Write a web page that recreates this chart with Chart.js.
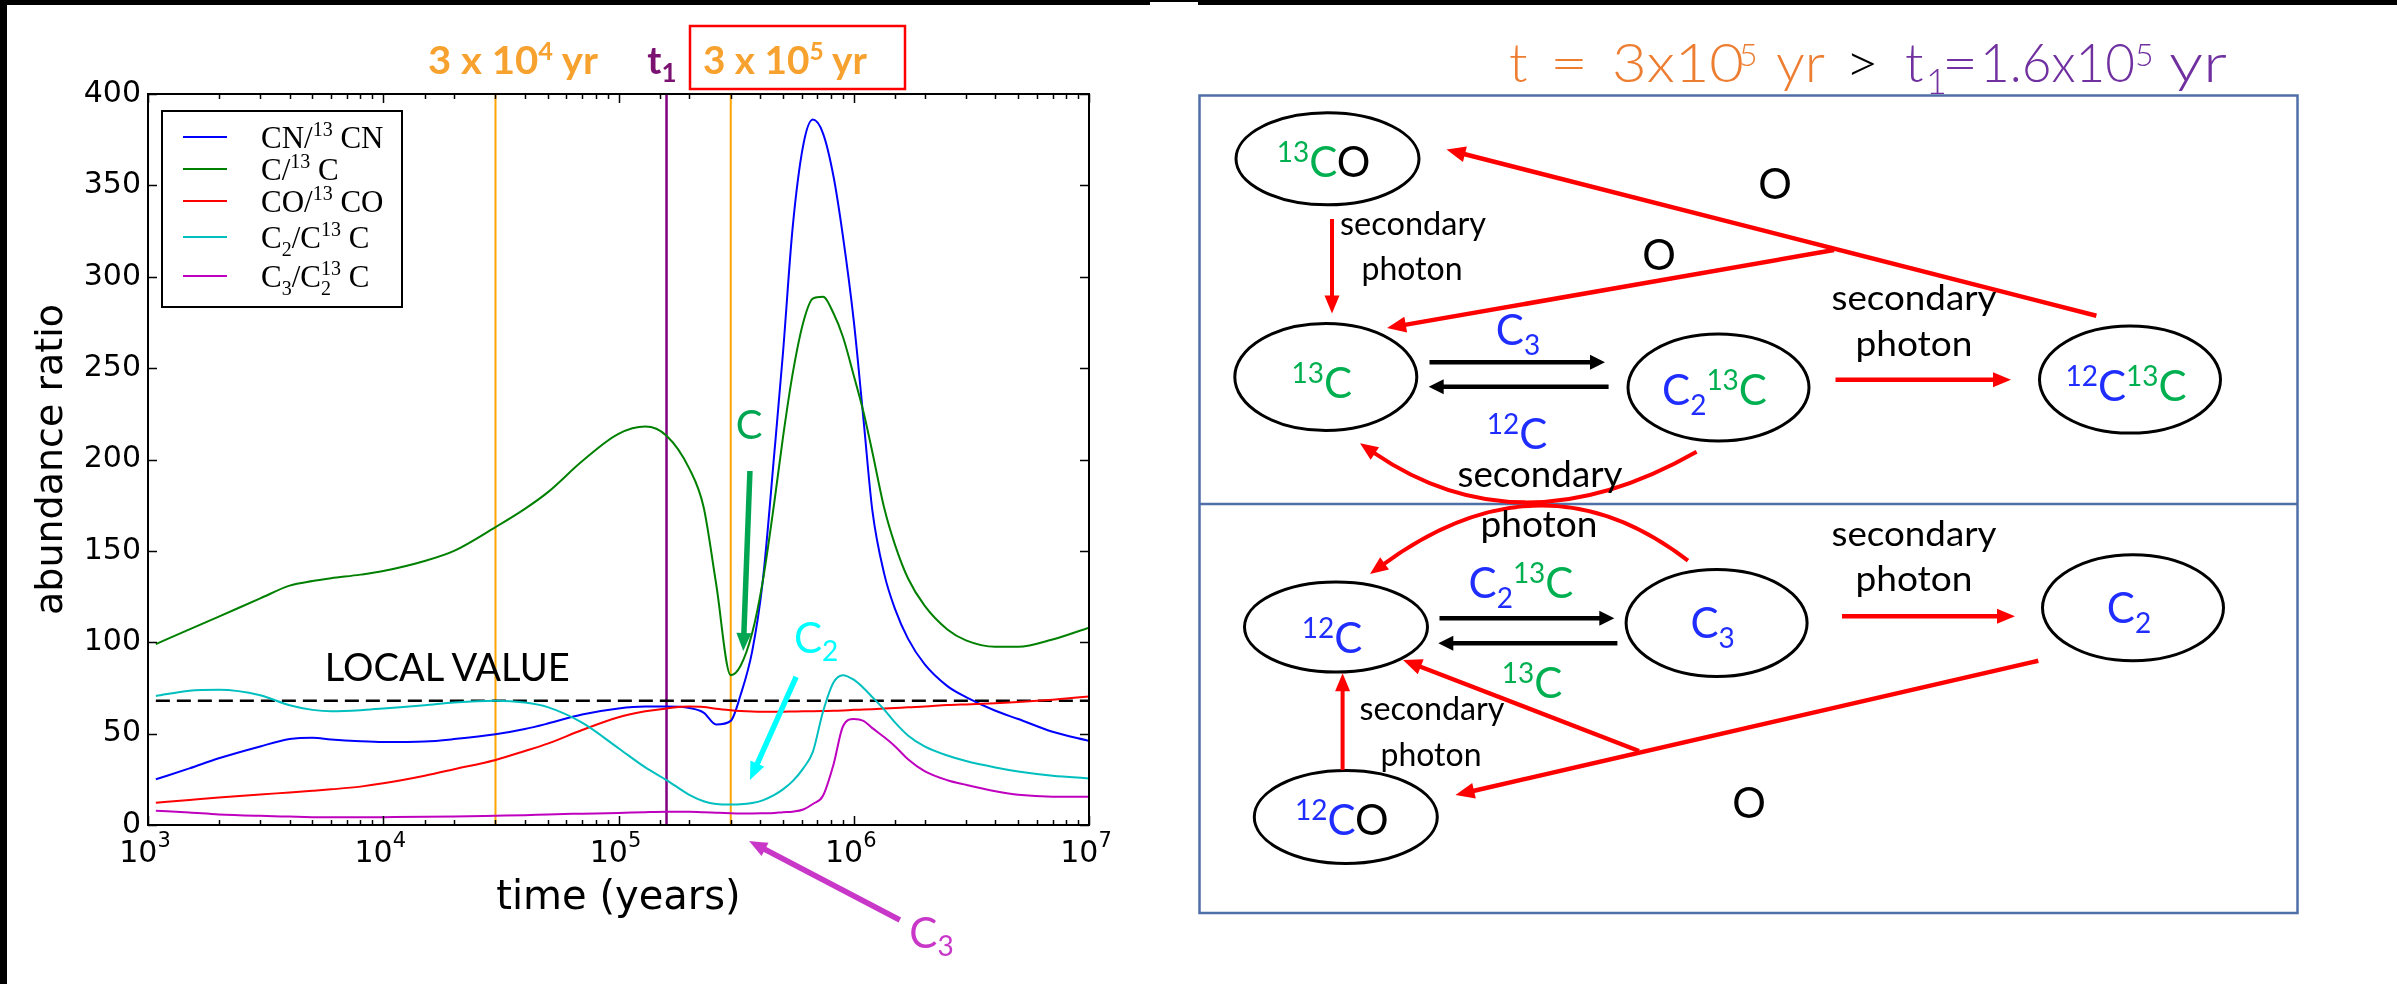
<!DOCTYPE html>
<html>
<head>
<meta charset="utf-8">
<title>Carbon isotopic ratios</title>
<script src="https://cdn.jsdelivr.net/npm/chart.js@4.4.1/dist/chart.umd.min.js"></script>
<style>
  html, body { margin: 0; padding: 0; background: #fff; }
  #page { position: relative; width: 2397px; height: 984px; overflow: hidden; background: #fff; }
  #plot { position: absolute; left: 0; top: 0; }
  #overlay { position: absolute; left: 0; top: 0; pointer-events: none; }
  .edge { position: absolute; background: #000; }
</style>
</head>
<body>
<div id="page">
  <canvas id="plot" width="1150" height="984"></canvas>
  <svg id="overlay" xmlns="http://www.w3.org/2000/svg" width="2397" height="984"></svg>
  <div class="edge" style="left:0;top:0;width:1150px;height:5px"></div>
  <div class="edge" style="left:1150px;top:0;width:48px;height:2px"></div>
  <div class="edge" style="left:1198px;top:0;width:1199px;height:5px"></div>
  <div class="edge" style="left:0;top:0;width:7px;height:984px"></div>
</div>
<script>
// ---- model time grid (years) and abundance ratios ----
const years = [1080, 1500, 2000, 3000, 4000, 5000, 6000, 8000,
  1e4, 1.5e4, 2e4, 3e4, 4e4, 5e4, 7e4,
  1e5, 1.3e5, 1.6e5, 2e5, 2.3e5, 2.6e5,
  3e5, 3.3e5, 3.7e5, 4.1e5, 4.6e5, 5e5, 5.5e5, 6.1e5, 6.7e5, 7.4e5, 8.2e5, 9e5,
  1e6, 1.1e6, 1.2e6, 1.35e6, 1.5e6, 1.7e6, 2e6, 2.5e6, 3e6, 4e6, 5e6, 7e6, 1e7];

const cnRatio = [25, 31, 36.5, 43, 47, 47.8, 46.8, 45.8,
  45.4, 45.7, 47, 49.6, 52.5, 55.5, 60.5,
  63.8, 64.8, 64.8, 64, 61.5, 55,
  57, 71, 95, 133, 204, 258, 327, 372, 386, 378.5, 355, 322,
  276, 222, 172, 137, 118, 102, 88, 76, 70, 62.5, 58, 51, 46];

const cRatio = [99, 107, 114, 124, 131, 133.5, 135, 137,
  139, 144.5, 150, 163, 173, 182, 199,
  214, 218, 213, 195, 174, 132,
  82, 87, 105, 133, 177, 212, 247, 275, 288, 289, 280, 267,
  246, 226, 204, 173, 153, 135, 120, 107, 101, 97.5, 97.5, 101.5, 108];

const coRatio = [12.2, 13.7, 15, 16.7, 17.8, 18.7, 19.5, 21,
  22.8, 27, 30.5, 35.6, 40.5, 44.5, 52,
  59, 62.2, 63.8, 64.8, 64.6, 63.6,
  62.8, 62.4, 62.1, 62, 62, 62, 62.1, 62.2, 62.3, 62.4, 62.5, 62.7,
  63, 63.2, 63.4, 63.7, 64, 64.4, 64.8, 65.6, 66, 66.6, 67.3, 68.6, 70.3];

const c2Ratio = [70.6, 73.5, 74, 71, 65.5, 63, 62.2, 62.8,
  63.8, 65.5, 67, 68, 67, 64.5, 56,
  42, 31.5, 24.6, 16.5, 13, 11.5,
  11.2, 11.3, 12, 13.5, 16.5, 19.5, 24, 31, 40, 62, 78, 82,
  79.5, 75, 70, 63, 56, 49, 43, 38, 35, 31.5, 29.3, 27, 25.5];

const c3Ratio = [7.8, 6.8, 5.8, 5, 4.6, 4.3, 4.2, 4.2,
  4.3, 4.5, 4.7, 5.1, 5.4, 5.8, 6.2,
  6.6, 7, 7.2, 7.2, 7, 6.7,
  6.4, 6.3, 6.3, 6.4, 6.6, 7, 7.3, 8.5, 11.5, 16, 33, 54,
  58, 57, 53, 48, 43, 36, 29.5, 24.5, 22, 18.5, 16.5, 15.5, 15.5];

// reference epochs (years) and the local interstellar 12C/13C value
const markerYears = [3e4, 1.6e5, 3e5];
const markerColors = ['#ffa500', '#800080', '#ffa500'];
const localValue = 68;

// axis ranges and ticks
const timeRange = [1e3, 1e7];
const ratioRange = [0, 400];
const ratioStep = 50;

const seriesDefs = [
  { values: cnRatio, color: '#0000ff', order: 5,
    label: [['CN/', ''], ['13', 'sup'], [' CN', '']] },
  { values: cRatio,  color: '#008000', order: 4,
    label: [['C/', ''], ['13', 'sup'], [' C', '']] },
  { values: coRatio, color: '#ff0000', order: 3,
    label: [['CO/', ''], ['13', 'sup'], [' CO', '']] },
  { values: c2Ratio, color: '#00bfbf', order: 2,
    label: [['C', ''], ['2', 'sub'], ['/C', ''], ['13', 'sup'], [' C', '']] },
  { values: c3Ratio, color: '#bf00bf', order: 1,
    label: [['C', ''], ['3', 'sub'], ['/C', ''], ['2', 'sub'], ['13', 'sup', -10], [' C', '']] }
];

const datasets = seriesDefs.map(s => ({
  data: years.map((t, i) => ({ x: t, y: s.values[i] })),
  borderColor: s.color,
  borderWidth: 2,
  pointRadius: 0,
  fill: false,
  cubicInterpolationMode: 'monotone',
  order: s.order
}));

markerYears.forEach((t, i) => datasets.push({
  data: [{ x: t, y: ratioRange[0] }, { x: t, y: ratioRange[1] }],
  borderColor: markerColors[i],
  borderWidth: i === 1 ? 2.5 : 2,
  pointRadius: 0,
  fill: false,
  order: 10
}));

datasets.push({
  data: [{ x: years[0], y: localValue }, { x: years[years.length - 1], y: localValue }],
  borderColor: '#000',
  borderWidth: 2.5,
  borderDash: [14, 7],
  pointRadius: 0,
  fill: false,
  order: 9
});

// frame, inward ticks on all four sides, and 10^n labels under the time axis
const frameAndTicks = {
  id: 'frameAndTicks',
  afterDraw(chart) {
    const { ctx, chartArea: a, scales: { x, y } } = chart;
    ctx.save();
    ctx.strokeStyle = '#000';
    ctx.lineWidth = 1.5;
    ctx.beginPath();
    x.ticks.forEach(tk => {
      const exp = Math.log10(tk.value);
      const major = Math.abs(exp - Math.round(exp)) < 1e-9;
      const len = major ? 9 : 5;
      const px = Math.round(x.getPixelForValue(tk.value)) + 0.5;
      ctx.moveTo(px, a.bottom); ctx.lineTo(px, a.bottom - len);
      ctx.moveTo(px, a.top); ctx.lineTo(px, a.top + len);
    });
    y.ticks.forEach(tk => {
      const py = Math.round(y.getPixelForValue(tk.value)) + 0.5;
      ctx.moveTo(a.left, py); ctx.lineTo(a.left + 9, py);
      ctx.moveTo(a.right, py); ctx.lineTo(a.right - 9, py);
    });
    ctx.stroke();
    ctx.lineWidth = 2;
    ctx.strokeRect(a.left, a.top, a.right - a.left, a.bottom - a.top);

    ctx.fillStyle = '#000';
    ctx.textBaseline = 'alphabetic';
    ctx.textAlign = 'left';
    x.ticks.forEach(tk => {
      const exp = Math.log10(tk.value);
      if (Math.abs(exp - Math.round(exp)) > 1e-9) return;
      const base = '10', sup = String(Math.round(exp));
      ctx.font = '30px "DejaVu Sans"';
      const wb = ctx.measureText(base).width;
      ctx.font = '21px "DejaVu Sans"';
      const ws = ctx.measureText(sup).width;
      const px = x.getPixelForValue(tk.value);
      const left = px - (wb + ws) / 2 - 3;
      ctx.font = '30px "DejaVu Sans"';
      ctx.fillText(base, left, a.bottom + 37);
      ctx.font = '21px "DejaVu Sans"';
      ctx.fillText(sup, left + wb, a.bottom + 22);
    });
    ctx.restore();
  }
};

Chart.defaults.font.family = '"DejaVu Sans"';
Chart.defaults.color = '#000';

const chart = new Chart(document.getElementById('plot'), {
  type: 'line',
  data: { datasets },
  options: {
    responsive: false,
    animation: false,
    events: [],
    layout: { padding: { top: 94, right: 61, bottom: 0, left: 0 } },
    plugins: { legend: { display: false }, tooltip: { enabled: false } },
    scales: {
      x: {
        type: 'logarithmic',
        min: timeRange[0], max: timeRange[1],
        grid: { display: false, drawTicks: false },
        border: { display: false },
        ticks: { display: false, autoSkip: false },
        title: { display: true, text: 'time (years)', font: { size: 40 }, padding: { top: 0, bottom: 61 } },
        afterFit(s) { s.height = 159; }
      },
      y: {
        min: ratioRange[0], max: ratioRange[1],
        grid: { display: false, drawTicks: false },
        border: { display: false },
        ticks: { stepSize: ratioStep, padding: 7, font: { size: 30 } },
        title: { display: true, text: 'abundance ratio', font: { size: 38 }, padding: { top: 29, bottom: 0 } },
        afterFit(s) { s.width = 148; }
      }
    }
  },
  plugins: [frameAndTicks]
});

// ---- SVG overlay helpers ----
const NS = 'http://www.w3.org/2000/svg';
const svg = document.getElementById('overlay');
function el(tag, attrs, parent = svg) {
  const e = document.createElementNS(NS, tag);
  for (const k in attrs) e.setAttribute(k, attrs[k]);
  parent.appendChild(e);
  return e;
}
function richText(x, y, parts, o) {
  const size = o.size;
  const small = o.small || Math.round(size * 0.68);
  const supShift = o.supShift != null ? o.supShift : size * 0.38;
  const subShift = o.subShift != null ? o.subShift : size * 0.25;
  const t = el('text', {
    x, y,
    'text-anchor': o.anchor || 'middle',
    'font-family': o.font || 'Lato',
    'font-size': size,
    'font-weight': o.weight || 400
  });
  if (o.length) { t.setAttribute('textLength', o.length); t.setAttribute('lengthAdjust', 'spacingAndGlyphs'); }
  let shift = 0;
  for (const p of parts) {
    const [str, kind, dx, color] = p;
    const target = kind === 'sup' ? -supShift : kind === 'sub' ? subShift : 0;
    const span = el('tspan', { fill: color || o.color || '#000', dy: target - shift }, t);
    if (kind) span.setAttribute('font-size', small);
    if (dx) span.setAttribute('dx', dx);
    span.textContent = str;
    shift = target;
  }
  return t;
}
function arrow(x1, y1, x2, y2, color, w, hl, hw) {
  const dx = x2 - x1, dy = y2 - y1, L = Math.hypot(dx, dy), ux = dx / L, uy = dy / L;
  const bx = x2 - ux * hl, by = y2 - uy * hl;
  el('line', { x1, y1, x2: bx + ux, y2: by + uy, stroke: color, 'stroke-width': w });
  el('polygon', { fill: color,
    points: `${x2},${y2} ${bx - uy * hw / 2},${by + ux * hw / 2} ${bx + uy * hw / 2},${by - ux * hw / 2}` });
}
function curvedArrow(x0, y0, cx, cy, x2, y2, color, w, hl, hw) {
  const dx = x2 - cx, dy = y2 - cy, L = Math.hypot(dx, dy), ux = dx / L, uy = dy / L;
  const bx = x2 - ux * hl, by = y2 - uy * hl;
  el('path', { d: `M${x0},${y0} Q${cx},${cy} ${bx + ux},${by + uy}`, fill: 'none', stroke: color, 'stroke-width': w });
  el('polygon', { fill: color,
    points: `${x2},${y2} ${bx - uy * hw / 2},${by + ux * hw / 2} ${bx + uy * hw / 2},${by - ux * hw / 2}` });
}

// ---- notes on the plot, placed in (time, ratio) coordinates ----
const X = v => chart.scales.x.getPixelForValue(v);
const Y = v => chart.scales.y.getPixelForValue(v);

const ORANGE = '#f7a12e';
richText(X(3.56e4), Y(411), [['3 x 10'], ['4', 'sup'], [' yr']],
  { size: 38, weight: 700, color: ORANGE, length: 170, supShift: 14, small: 24 });
richText(X(1.53e5), Y(411), [['t'], ['1', 'sub']],
  { size: 38, weight: 700, color: '#7b1272', subShift: 8, small: 26 });
richText(X(5.1e5), Y(411), [['3 x 10'], ['5', 'sup'], [' yr']],
  { size: 38, weight: 700, color: ORANGE, length: 164, supShift: 14, small: 24 });
el('rect', { x: 690, y: 26, width: 215, height: 63, fill: 'none', stroke: '#ff0000', 'stroke-width': 2.5 });

richText(X(1.87e4), Y(78.8), [['LOCAL VALUE']], { size: 39, color: '#000', length: 245 });

arrow(X(3.62e5), Y(193.7), X(3.39e5), Y(95.2), '#00a651', 5.5, 18, 15);
richText(X(3.59e5), Y(211.2), [['C']], { size: 40, color: '#00a651' });

arrow(X(5.69e5), Y(81), X(3.62e5), Y(24.6), '#00ffff', 5.5, 18, 15);
richText(X(6.92e5), Y(94.1), [['C'], ['2', 'sub']], { size: 42, color: '#00ffff', subShift: 8, small: 28 });

arrow(X(1.57e6), Y(-52), X(3.59e5), Y(-8.8), '#c837c8', 5.5, 18, 15);
richText(X(2.14e6), Y(-67.5), [['C'], ['3', 'sub']], { size: 42, color: '#c837c8', subShift: 8, small: 28 });

// legend
el('rect', { x: 162, y: 111, width: 240, height: 196, fill: '#fff', stroke: '#000', 'stroke-width': 2 });
const legendRows = [137, 169, 201, 237, 276];
seriesDefs.forEach((s, i) => {
  const ly = legendRows[i];
  el('line', { x1: 183, y1: ly, x2: 227, y2: ly, stroke: s.color, 'stroke-width': 2 });
  richText(261, ly + 11, s.label.map(p => [p[0], p[1], p[2]]),
    { size: 31, font: '"Liberation Serif", "DejaVu Serif", serif', anchor: 'start', color: '#000', small: 20, supShift: 12, subShift: 8 });
});

// ---- reaction network diagram ----
const GREEN = '#00b050', BLUE = '#1f2dff', RED = '#ff0000';
el('rect', { x: 1199.5, y: 95.5, width: 1098, height: 817.5, fill: 'none', stroke: '#4f6fa8', 'stroke-width': 2.5 });
el('line', { x1: 1199.5, y1: 504, x2: 2297.5, y2: 504, stroke: '#4f6fa8', 'stroke-width': 2.5 });

// title, one text element per piece so each sits at its own position
[
  ['t', 1509, 0, '#ed7d31', 54],
  ['=', 1550, 0, '#ed7d31', 54, 38],
  ['3x10', 1612, 0, '#ed7d31', 54, 132],
  ['5', 1739, -16, '#ed7d31', 32],
  ['yr', 1776, 0, '#ed7d31', 54, 49],
  ['>', 1845, 0, '#000', 54, 34],
  ['t', 1905, 0, '#7030a0', 54],
  ['1', 1926, 12, '#7030a0', 36],
  ['=', 1942, 0, '#7030a0', 54, 36],
  ['1.6x10', 1980, 0, '#7030a0', 54, 155],
  ['5', 2135, -16, '#7030a0', 32],
  ['yr', 2169, 0, '#7030a0', 54, 58]
].forEach(([s, x, dy, c, fs, len]) => {
  const t = el('text', { x, y: 81.7 + dy, fill: c, 'font-family': 'Lato', 'font-size': fs, 'font-weight': 300 });
  if (len) { t.setAttribute('textLength', len); t.setAttribute('lengthAdjust', 'spacingAndGlyphs'); }
  t.textContent = s;
});

// species
const species = [
  { cx: 1327.5, cy: 158.8, rx: 91.5, ry: 46, ty: 177, parts: [['13', 'sup', 0, GREEN], ['C', '', 0, GREEN], ['O', '', 0, '#000']] },
  { cx: 1325.8, cy: 377, rx: 91, ry: 53.5, ty: 398, parts: [['13', 'sup', 0, GREEN], ['C', '', 0, GREEN]] },
  { cx: 1718.5, cy: 387.5, rx: 90.5, ry: 53.5, ty: 405, parts: [['C', '', 0, BLUE], ['2', 'sub', 0, BLUE], ['13', 'sup', 0, GREEN], ['C', '', 0, GREEN]] },
  { cx: 2130, cy: 379.6, rx: 90.5, ry: 53.5, ty: 401, parts: [['12', 'sup', 0, BLUE], ['C', '', 0, BLUE], ['13', 'sup', 0, GREEN], ['C', '', 0, GREEN]] },
  { cx: 1336, cy: 627, rx: 91.5, ry: 45, ty: 653, parts: [['12', 'sup', 0, BLUE], ['C', '', 0, BLUE]] },
  { cx: 1716.6, cy: 623, rx: 90.5, ry: 53.5, ty: 638, parts: [['C', '', 0, BLUE], ['3', 'sub', 0, BLUE]] },
  { cx: 2133, cy: 607.8, rx: 90.5, ry: 53, ty: 623, parts: [['C', '', 0, BLUE], ['2', 'sub', 0, BLUE]] },
  { cx: 1345.8, cy: 817, rx: 91.5, ry: 46.5, ty: 835, parts: [['12', 'sup', 0, BLUE], ['C', '', 0, BLUE], ['O', '', 0, '#000']] }
];
species.forEach(s => {
  el('ellipse', { cx: s.cx, cy: s.cy, rx: s.rx, ry: s.ry, fill: 'none', stroke: '#000', 'stroke-width': 3 });
  richText(s.cx - 4, s.ty, s.parts, { size: 42, small: 28, supShift: 15, subShift: 10 });
});

// reactions: upper panel (13C chemistry)
arrow(2096.4, 315.7, 1446.5, 149.5, RED, 4.5, 19, 16);
arrow(1834, 250, 1387, 328, RED, 4.5, 19, 16);
arrow(1332, 219, 1332, 313.5, RED, 4, 18, 15);
arrow(1429.5, 362.3, 1605, 362.3, '#000', 4.5, 15, 15);
arrow(1608.6, 386.7, 1428.7, 386.7, '#000', 4.5, 15, 15);
curvedArrow(1696.6, 451.7, 1519.7, 552.5, 1360, 443.3, RED, 4, 18, 15);
arrow(1835.5, 379.7, 2011, 379.7, RED, 4.5, 18, 15);

// reactions: lower panel (12C chemistry)
curvedArrow(1688, 560.7, 1543, 448.6, 1370, 574, RED, 4, 18, 15);
arrow(1439.5, 618.3, 1614.3, 618.3, '#000', 4.5, 15, 15);
arrow(1617.4, 643.3, 1438.3, 643.3, '#000', 4.5, 15, 15);
arrow(1842, 616.3, 2015, 616.3, RED, 4.5, 18, 15);
arrow(1342.6, 770, 1342.6, 673.3, RED, 4, 18, 15);
arrow(2038.3, 660.8, 1455.5, 795, RED, 4.5, 19, 16);
arrow(1639, 751, 1403, 660, RED, 4.5, 19, 16);

// reaction labels
const plain = (x, y, s, len, size) => richText(x, y, [[s]], { size: size || 33, color: '#000', length: len });
plain(1413, 235, 'secondary', 146);
plain(1412, 280, 'photon', 101);
plain(1540, 487, 'secondary', 165, 36);
plain(1539, 537, 'photon', 117, 36);
plain(1914, 310, 'secondary', 165, 35);
plain(1914, 356, 'photon', 117, 35);
plain(1914, 546, 'secondary', 165, 35);
plain(1914, 591, 'photon', 117, 35);
plain(1432, 720, 'secondary', 145, 33);
plain(1431, 766, 'photon', 101, 33);

richText(1775, 199, [['O']], { size: 42, color: '#000' });
richText(1659, 270, [['O']], { size: 42, color: '#000' });
richText(1749, 818, [['O']], { size: 42, color: '#000' });

richText(1518, 345, [['C', '', 0, BLUE], ['3', 'sub', 0, BLUE]], { size: 42, small: 28, subShift: 10 });
richText(1517, 449, [['12', 'sup', 0, BLUE], ['C', '', 0, BLUE]], { size: 42, small: 28, supShift: 15 });
richText(1521, 598, [['C', '', 0, BLUE], ['2', 'sub', 0, BLUE], ['13', 'sup', 0, GREEN], ['C', '', 0, GREEN]], { size: 42, small: 28, supShift: 15, subShift: 10 });
richText(1532, 698, [['13', 'sup', 0, GREEN], ['C', '', 0, GREEN]], { size: 42, small: 28, supShift: 15 });
</script>
</body>
</html>
